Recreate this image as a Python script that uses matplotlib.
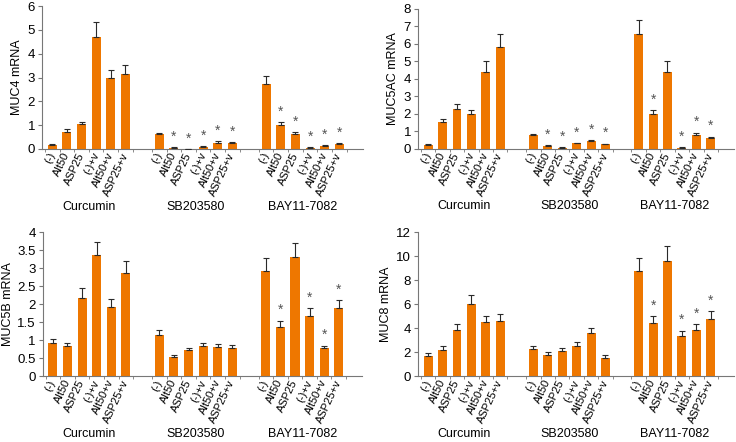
import numpy as np
import matplotlib
matplotlib.use('Agg')
import matplotlib.pyplot as plt
from matplotlib import font_manager

names = set(f.name for f in font_manager.fontManager.ttflist)
if 'Liberation Sans Narrow' in names:
    plt.rcParams['font.family'] = ['Liberation Sans Narrow', 'DejaVu Sans']
else:
    plt.rcParams['font.family'] = ['Liberation Sans', 'DejaVu Sans']

groups = ['Curcumin', 'SB203580', 'BAY11-7082']
treatments = ['(-)', 'Alt50', 'ASP25', '(-)+v', 'Alt50+v', 'ASP25+v']

# MUC4
muc4 = [0.15, 0.73, 1.03, 4.72, 2.97, 3.13,
        0.62, 0.05, 0.0, 0.10, 0.25, 0.23,
        2.73, 1.00, 0.62, 0.05, 0.13, 0.20]
muc4_err = [0.05, 0.10, 0.12, 0.60, 0.35, 0.40,
            0.07, 0.02, 0.0, 0.02, 0.07, 0.05,
            0.35, 0.12, 0.08, 0.02, 0.03, 0.04]
muc4_star = [0, 0, 0, 0, 0, 0,
             0, 1, 1, 1, 1, 1,
             0, 1, 1, 1, 1, 1]

# MUC5AC
muc5ac = [0.25, 1.52, 2.28, 2.00, 4.42, 5.80,
          0.78, 0.18, 0.08, 0.32, 0.47, 0.27,
          6.55, 2.00, 4.42, 0.08, 0.78, 0.60]
muc5ac_err = [0.05, 0.18, 0.30, 0.22, 0.58, 0.75,
              0.08, 0.03, 0.02, 0.03, 0.05, 0.03,
              0.80, 0.23, 0.60, 0.02, 0.15, 0.10]
muc5ac_star = [0, 0, 0, 0, 0, 0,
               0, 1, 1, 1, 1, 1,
               0, 1, 0, 1, 1, 1]

# MUC5B
muc5b = [0.92, 0.83, 2.17, 3.35, 1.93, 2.85,
         1.15, 0.53, 0.72, 0.83, 0.80, 0.77,
         2.92, 1.37, 3.32, 1.68, 0.77, 1.90]
muc5b_err = [0.12, 0.10, 0.27, 0.38, 0.22, 0.35,
             0.12, 0.06, 0.07, 0.10, 0.10, 0.09,
             0.35, 0.17, 0.38, 0.20, 0.08, 0.20]
muc5b_star = [0, 0, 0, 0, 0, 0,
              0, 0, 0, 0, 0, 0,
              0, 1, 0, 1, 1, 1]

# MUC8
muc8 = [1.70, 2.20, 3.82, 6.00, 4.50, 4.60,
        2.25, 1.75, 2.10, 2.50, 3.60, 1.55,
        8.75, 4.42, 9.60, 3.35, 3.85, 4.75]
muc8_err = [0.20, 0.28, 0.50, 0.75, 0.55, 0.60,
            0.30, 0.22, 0.28, 0.35, 0.45, 0.18,
            1.10, 0.55, 1.25, 0.45, 0.50, 0.65]
muc8_star = [0, 0, 0, 0, 0, 0,
             0, 0, 0, 0, 0, 0,
             0, 1, 0, 1, 1, 1]

orange = '#ee7700'
gap = 7.3
pos = np.array([g * gap + i for g in range(3) for i in range(6)])

panels = [
    ('MUC4 mRNA', muc4, muc4_err, muc4_star, 6, 1, [0.057, 0.663, 0.436, 0.323]),
    ('MUC5AC mRNA', muc5ac, muc5ac_err, muc5ac_star, 8, 1, [0.568, 0.663, 0.429, 0.317]),
    ('MUC5B mRNA', muc5b, muc5b_err, muc5b_star, 4, 0.5, [0.058, 0.149, 0.434, 0.326]),
    ('MUC8 mRNA', muc8, muc8_err, muc8_star, 12, 2, [0.568, 0.149, 0.429, 0.326]),
]

fig = plt.figure(figsize=(7.36, 4.42), dpi=100)

for ylabel, vals, errs, stars, ymax, step, rect in panels:
    ax = fig.add_axes(rect)
    ax.bar(pos, vals, width=0.62, color=orange, zorder=2)
    ax.errorbar(pos, vals, yerr=[np.zeros(len(errs)), errs], fmt='none',
                ecolor='#2a2a2a', elinewidth=0.8, capsize=2.2, capthick=0.8, zorder=3)
    for x, v, e, s in zip(pos, vals, errs, stars):
        if s:
            ax.text(x, v + e + ymax * 0.025, '*', ha='center', va='bottom',
                    fontsize=10, color='#555555')
    ax.set_ylim(0, ymax)
    ax.set_xlim(-0.7, 2 * gap + 5 + 1.6)
    ticks = np.arange(0, ymax + step / 2, step)
    ax.set_yticks(ticks)
    ax.set_yticklabels(['%g' % t for t in ticks], fontsize=9.5)
    ax.set_xticks(pos)
    ax.set_xticklabels(treatments * 3, rotation=65, ha='right', va='center',
                       rotation_mode='anchor', fontsize=8)
    ax.tick_params(axis='x', length=0, pad=3)
    ax.set_xticks(np.concatenate([pos - 0.5, pos[5::6] + 0.5]), minor=True)
    ax.tick_params(axis='x', which='minor', length=2.5, color='#777777')
    ax.tick_params(axis='y', length=3, color='#777777', pad=2)
    for side in ['top', 'right']:
        ax.spines[side].set_visible(False)
    for side in ['left', 'bottom']:
        ax.spines[side].set_color('#777777')
        ax.spines[side].set_linewidth(0.8)
    ax.set_ylabel(ylabel, fontsize=9, labelpad=2 if step < 1 else 3)
    for g, name in enumerate(groups):
        ax.text(g * gap + 2.5, -0.405, name, transform=ax.get_xaxis_transform(),
                ha='center', va='center', fontsize=9)

fig.savefig('out.png', dpi=100)
